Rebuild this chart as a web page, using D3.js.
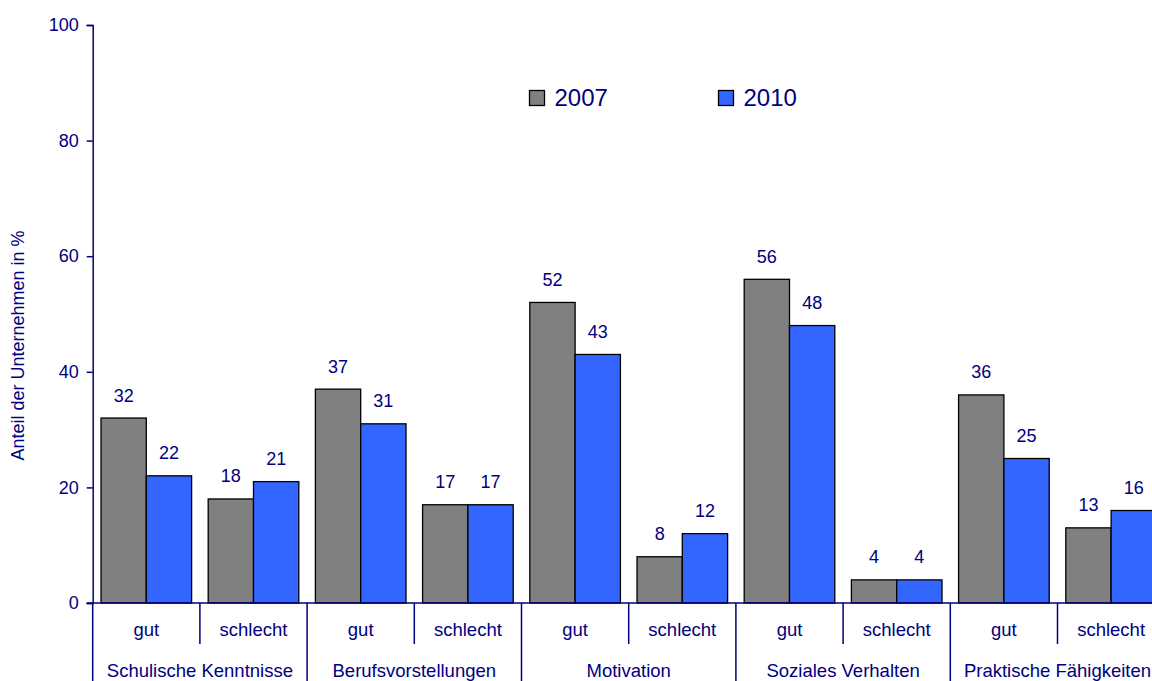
<!DOCTYPE html>
<html><head><meta charset="utf-8">
<script src="https://cdn.jsdelivr.net/npm/d3@7"></script>
<style>
html,body{margin:0;padding:0;background:#fff;overflow:hidden}
text{font-family:"Liberation Sans",Arial,sans-serif;fill:#000080}
</style></head>
<body><svg id="c" width="1152" height="681"></svg>
<script>
const groups = ["Schulische Kenntnisse","Berufsvorstellungen","Motivation","Soziales Verhalten","Praktische Fähigkeiten"];
const ratings = ["gut","schlecht"];
const series = ["2007","2010"];
const values2007 = [32,18,37,17,52,8,56,4,36,13];
const values2010 = [22,21,31,17,43,12,48,4,25,16];
const yTicks = [0,20,40,60,80,100];
const yTitle = "Anteil der Unternehmen in %";

const colors = {"2007":"#808080","2010":"#3366FF"};
const navy = "#000080";
const svg = d3.select("#c");

const cats = [];
groups.forEach((g,gi)=>ratings.forEach((r,ri)=>cats.push({id:gi*2+ri, group:g, rating:r})));
const data = cats.map((c,i)=>({...c, v:{"2007":values2007[i],"2010":values2010[i]}}));

const x0 = 92.7, band = 107.2;
const x = d3.scaleBand().domain(cats.map(c=>c.id)).range([x0, x0+band*cats.length]).padding(0);
const xs = d3.scaleBand().domain(series).range([0, x.bandwidth()]).paddingInner(0).paddingOuter(0.183);
const y = d3.scaleLinear().domain([0,100]).range([603,25]);

// bars
const g = svg.append("g");
data.forEach(d=>{
  series.forEach(s=>{
    g.append("rect")
      .attr("x", x(d.id)+xs(s)).attr("y", y(d.v[s]))
      .attr("width", xs.bandwidth()).attr("height", y(0)-y(d.v[s]))
      .attr("fill", colors[s]).attr("stroke","#000").attr("stroke-width",1.3);
    g.append("text")
      .attr("x", x(d.id)+xs(s)+xs.bandwidth()/2).attr("y", y(d.v[s])-16.5)
      .attr("text-anchor","middle").style("font-size","18px").text(d.v[s]);
  });
});

// y axis
const yAxis = d3.axisLeft(y).tickValues(yTicks).tickSize(6).tickPadding(8);
const ya = svg.append("g").attr("transform",`translate(${x0},0)`).call(yAxis);
ya.attr("font-size",null).attr("font-family",null);
ya.select(".domain").attr("stroke",navy).attr("stroke-width",1.5);
ya.selectAll(".tick line").attr("stroke",navy).attr("stroke-width",1.5);
ya.selectAll(".tick text").style("font-size","18px").style("fill",navy);

// x axis baseline
svg.append("line").attr("x1",x0-6).attr("x2",1152).attr("y1",y(0)).attr("y2",y(0)).attr("stroke",navy).attr("stroke-width",1.5);
// left line extending down
svg.append("line").attr("x1",x0).attr("x2",x0).attr("y1",y(0)).attr("y2",681).attr("stroke",navy).attr("stroke-width",1.5);

// dividers
cats.forEach((c,i)=>{
  if(i===0) return;
  const xx = x(c.id);
  const isGroup = c.rating===ratings[0];
  svg.append("line").attr("x1",xx).attr("x2",xx).attr("y1",y(0)).attr("y2", isGroup?681:644)
    .attr("stroke",navy).attr("stroke-width",1.5);
});

// rating labels
cats.forEach(c=>{
  svg.append("text").attr("x", x(c.id)+x.bandwidth()/2).attr("y",636)
    .attr("text-anchor","middle").style("font-size","18.5px").text(c.rating);
});
// group labels
groups.forEach((gname,gi)=>{
  const a = x(gi*2), b = x(gi*2+1)+x.bandwidth();
  svg.append("text").attr("x",(a+b)/2).attr("y",676.5)
    .attr("text-anchor","middle").style("font-size","18.5px").text(gname);
});

// y title
svg.append("text").attr("transform","translate(24,345.5) rotate(-90)")
  .attr("text-anchor","middle").style("font-size","18px").text(yTitle);

// legend
const legX = [529.5, 718.5];
series.forEach((s,i)=>{
  svg.append("rect").attr("x",legX[i]).attr("y",90.5).attr("width",15).attr("height",15)
    .attr("fill",colors[s]).attr("stroke","#000").attr("stroke-width",1.3);
  svg.append("text").attr("x",legX[i]+25).attr("y",106).style("font-size","24px").text(s);
});
</script></body></html>
